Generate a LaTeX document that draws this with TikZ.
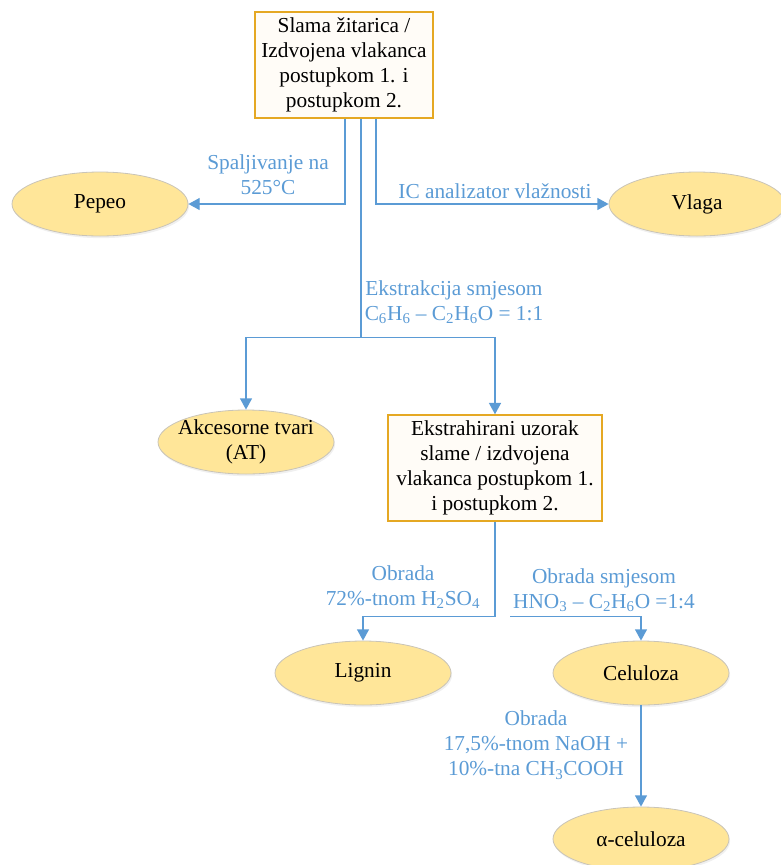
\documentclass[tikz,border=0pt]{standalone}
\usepackage{fontspec}
\setmainfont{Liberation Serif}
\usepackage{tikz}
\usetikzlibrary{calc,positioning,arrows.meta,shadows,shapes.geometric}
\usepackage{xcolor}

\definecolor{lineblue}{HTML}{5B9BD5}
\definecolor{boxgold}{HTML}{E5A823}
\definecolor{boxfill}{HTML}{FFFCF7}
\definecolor{ovalfill}{HTML}{FFE699}
\definecolor{ovalline}{HTML}{C9C4B8}

\tikzset{
	sample/.style={draw=boxgold, line width=1.6pt, fill=boxfill, align=center,
		minimum width=133pt, minimum height=79pt, inner sep=2pt},
	product/.style={ellipse, draw=ovalline, line width=0.6pt, fill=ovalfill, align=center,
		minimum width=132pt, minimum height=48pt, inner sep=0pt,
		drop shadow={opacity=0.12, shadow xshift=0.8pt, shadow yshift=-1.6pt}},
	flow/.style={draw=lineblue, line width=1.1pt},
	arr/.style={flow, -{Triangle[width=9pt,length=8.5pt]}},
	step label/.style={text=lineblue, align=center, inner sep=0pt}
}

\begin{document}
\begin{tikzpicture}[x=0.75pt, y=-0.75pt, font=\fontsize{16}{18.75}\selectfont]

			\useasboundingbox (0,0) rectangle (781,865);

			% samples
			\node[sample] (straw) at (344, 65)
				{Slama žitarica /\\ Izdvojena vlakanca\\ postupkom 1. i\\ postupkom 2.};
			\node[sample, minimum width=161pt] (extr) at (495, 468)
				{Ekstrahirani uzorak\\ slame / izdvojena\\ vlakanca postupkom 1.\\ i postupkom 2.};

			% products
			\node[product] (ash) at (100, 204) {Pepeo};
			\node[product] (moist) at (697, 204) {Vlaga};
			\node[product, inner xsep=-7pt, inner ysep=-3pt] (acc) at (246, 442) {Akcesorne tvari\\ (AT)};
			\node[product] (lig) at (363, 673) {Lignin};
			\node[product] (cel) at (641, 673) {Celuloza};
			\node[product] (acel) at (641, 839) {α-celuloza};

			% first level
			\draw[arr] ($(straw.south)+(1,0)$) |- (ash);
			\draw[arr] ($(straw.south)+(32,0)$) |- (moist);
			\draw[flow] ($(straw.south)+(17,0)$) -- ++(0,219) coordinate (split);
			\draw[arr] (split) -| (acc);
			\draw[arr] (split) -| (extr);

			% second level
			\draw[flow] (extr.south) -- ++(0,95) coordinate (fork);
			\draw[arr] (fork) -| (lig);
			\coordinate (celstart) at ($(fork)+(15,0)$);
			\draw[arr] (celstart) -| (cel);
			\draw[arr] (cel) -- (acel);

			% labels
			\node[step label] (burn) at (268, 175) {Spaljivanje na\\ 525°C};
			\node[step label] (ic) at (495, 191) {IC analizator vlažnosti};
			\node[step label] (ext) at (454, 302)
				{Ekstrakcija smjesom\\ C\textsubscript{6}H\textsubscript{6} – C\textsubscript{2}H\textsubscript{6}O = 1:1};
			\node[step label] (sulf) at (403, 587) {Obrada\\ 72\%-tnom H\textsubscript{2}SO\textsubscript{4}};
			\node[step label] (nitr) at (604, 590)
				{Obrada smjesom\\ HNO\textsubscript{3} – C\textsubscript{2}H\textsubscript{6}O =1:4};
			\node[step label] (naoh) at (536, 745)
				{Obrada\\ 17,5\%-tnom NaOH +\\ 10\%-tna CH\textsubscript{3}COOH};

\end{tikzpicture}
\end{document}
